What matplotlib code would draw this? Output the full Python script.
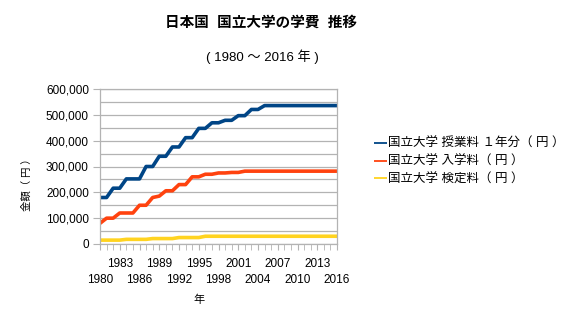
import matplotlib
matplotlib.use("Agg")
import matplotlib.pyplot as plt
from matplotlib.ticker import MultipleLocator, FuncFormatter

plt.rcParams["font.family"] = ["Liberation Sans", "Noto Sans CJK JP", "DejaVu Sans"]

years = list(range(1980, 2017))

# 国立大学 授業料 1年分（円）
tuition = [180000, 180000, 216000, 216000, 252000, 252000, 252000, 300000, 300000,
           339600, 339600, 375600, 375600, 411600, 411600, 447600, 447600, 469200,
           469200, 478800, 478800, 496800, 496800, 520800, 520800, 535800, 535800,
           535800, 535800, 535800, 535800, 535800, 535800, 535800, 535800, 535800,
           535800]
# 国立大学 入学料（円）
admission = [80000, 100000, 100000, 120000, 120000, 120000, 150000, 150000, 180000,
             185400, 206000, 206000, 230000, 230000, 260000, 260000, 270000, 270000,
             275000, 275000, 277000, 277000, 282000, 282000, 282000, 282000, 282000,
             282000, 282000, 282000, 282000, 282000, 282000, 282000, 282000, 282000,
             282000]
# 国立大学 検定料（円）
exam = [15000, 15000, 15000, 15000, 18000, 18000, 18000, 18000, 21000, 21000,
        21000, 21000, 25000, 25000, 25000, 25000, 30000, 30000, 30000, 30000,
        30000, 30000, 30000, 30000, 30000, 30000, 30000, 30000, 30000, 30000,
        30000, 30000, 30000, 30000, 30000, 30000, 30000]

labels = ["国立大学 授業料 １年分（ 円 ）", "国立大学 入学料（ 円 ）", "国立大学 検定料（ 円 ）"]
colors = ["#004586", "#ff420e", "#ffd320"]
label_years = list(range(1980, 2017, 3))

grid_c = "#b3b3b3"

fig = plt.figure(figsize=(5.73, 3.26), dpi=100)
ax = fig.add_axes([100 / 573, 1 - 244 / 326, 237 / 573, 155 / 326])

for s, lab, c in zip([tuition, admission, exam], labels, colors):
    ax.plot(years, s, color=c, lw=2.6, label=lab, solid_capstyle="butt")

ax.set_xlim(1980, 2016)
ax.set_ylim(0, 600000)
ax.yaxis.set_major_locator(MultipleLocator(100000))
ax.yaxis.set_minor_locator(MultipleLocator(50000))
ax.yaxis.set_major_formatter(FuncFormatter(lambda v, p: f"{int(v):,}"))
ax.grid(True, axis="y", which="both", color=grid_c, lw=0.9)
ax.set_axisbelow(True)

ax.set_xticks(label_years)
ax.set_xticklabels([str(y) for y in label_years])
ax.set_xticks(years, minor=True)
ax.tick_params(axis="x", which="both", direction="out", length=4, color=grid_c,
               labelsize=8.5)
ax.tick_params(axis="y", which="major", direction="out", length=5, color=grid_c,
               labelsize=8.5, pad=3)
ax.tick_params(axis="y", which="minor", length=0)
# staggered year labels: 1983, 1989 ... on the upper row, 1980, 1986 ... below
for i, t in enumerate(ax.xaxis.get_major_ticks()):
    t.set_pad(17.5 if i % 2 == 0 else 6)
for sp in ax.spines.values():
    sp.set_color(grid_c)
    sp.set_linewidth(0.9)

fig.text(261 / 573, 1 - 23 / 326, "日本国  国立大学の学費  推移", ha="center", va="center",
         fontsize=10.5, fontweight="bold")
fig.text(262 / 573, 1 - 57 / 326, "( 1980 ～ 2016 年 )", ha="center", va="center",
         fontsize=9.5)
fig.text(27 / 573, 1 - 182 / 326, "金額（ 円 ）", ha="center", va="center", rotation=90,
         fontsize=7.5)
fig.text(199 / 573, 1 - 300 / 326, "年", ha="center", va="center", fontsize=8)

fig.legend(loc="upper left", bbox_to_anchor=(374 / 573, 1 - 138 / 326), frameon=False,
           fontsize=9, handlelength=1.0, handletextpad=0.1, labelspacing=0.45,
           borderaxespad=0, borderpad=0)
for line in fig.legends[0].get_lines():
    line.set_linewidth(1.3)

fig.savefig("out.png", dpi=100)
